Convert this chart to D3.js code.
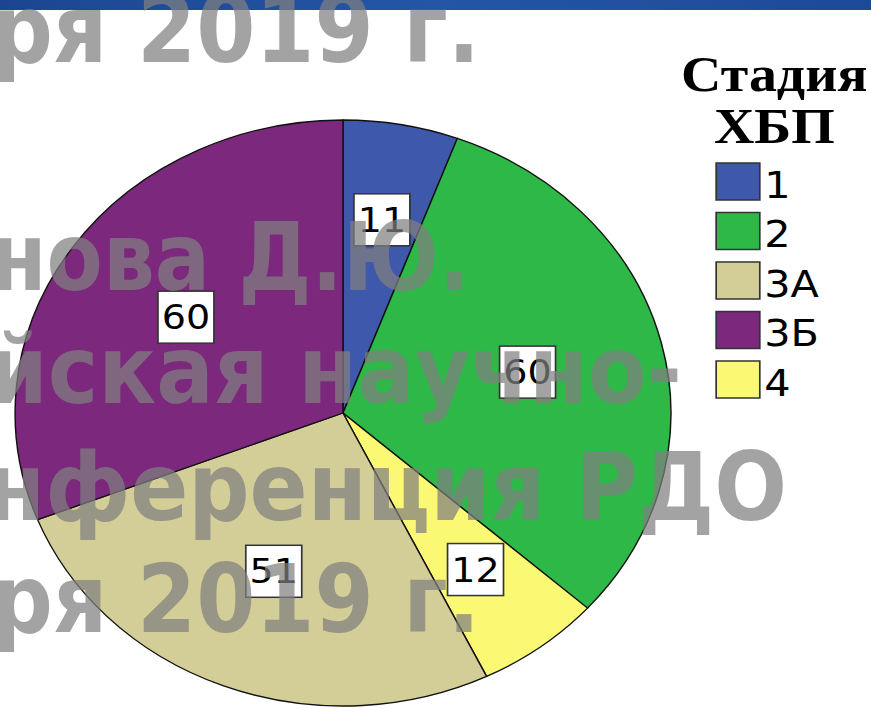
<!DOCTYPE html>
<html>
<head>
<meta charset="utf-8">
<script src="https://cdn.jsdelivr.net/npm/d3@7"></script>
<style>
  html, body { margin: 0; padding: 0; background: #fff; }
  svg { display: block; }
</style>
</head>
<body>
<svg id="chart"></svg>
<script>
// data, in the order the slices run clockwise from 12 o'clock
var sliceStages = ["1", "2", "4", "3А", "3Б"];
var sliceCounts = [11, 60, 12, 51, 60];

// legend order
var legendStages = ["1", "2", "3А", "3Б", "4"];
var stageColors = ["#3e58ac", "#2eb848", "#d3ce97", "#7c287d", "#fbf873"];

var legendTitle = ["Стадия", "ХБП"];

// slide watermark that lies over the picture
var watermarkLines = ["ря 2019 г.", "нова Д.Ю.", "йская научно-", "нференция РДО", "ря 2019 г."];

var width = 871, height = 709;
var stretch = 1.119;   // the chart image is stretched sideways on the slide

var svg = d3.select("#chart").attr("width", width).attr("height", height);

var color = d3.scaleOrdinal().domain(legendStages).range(stageColors);

// top bar of the slide
var grad = svg.append("defs").append("linearGradient").attr("id", "bar");
grad.append("stop").attr("offset", "0%").attr("stop-color", "#1c4590");
grad.append("stop").attr("offset", "50%").attr("stop-color", "#2456a6");
grad.append("stop").attr("offset", "100%").attr("stop-color", "#1d4a98");
svg.append("rect").attr("x", 0).attr("y", 0).attr("width", width).attr("height", 10)
    .attr("fill", "url(#bar)");

var chart = svg.append("g").attr("transform", "scale(" + stretch + ",1)");

var cx = 306.5, cy = 413, radius = 293;

var pie = d3.pie().sort(null).value(function(d){ return d.count; });
var rows = sliceStages.map(function(s, i){ return {stage: s, count: sliceCounts[i]}; });
var arcs = pie(rows);

var arc = d3.arc().innerRadius(0).outerRadius(radius);

var g = chart.append("g").attr("transform", "translate(" + cx + "," + cy + ")");

g.selectAll("path.slice").data(arcs)
  .enter().append("path")
    .attr("class", "slice")
    .attr("d", arc)
    .attr("fill", function(d){ return color(d.data.stage); })
    .attr("stroke", "#111")
    .attr("stroke-width", 1.3)
    .attr("stroke-linejoin", "round");

// value labels: small slices get pushed further out
function labelPos(d){
  var k = (d.endAngle - d.startAngle) < 0.5 ? 0.67 : 0.58;
  var a = d3.arc().innerRadius(radius * k).outerRadius(radius * k);
  return a.centroid(d);
}

var labels = g.selectAll("g.lab").data(arcs)
  .enter().append("g")
    .attr("class", "lab")
    .attr("transform", function(d){ var p = labelPos(d); return "translate(" + p[0] + "," + p[1] + ")"; });

labels.append("rect")
    .attr("x", -25).attr("y", -26).attr("width", 50).attr("height", 52)
    .attr("fill", "#fff").attr("stroke", "#333").attr("stroke-width", 1.5);

labels.append("text")
    .attr("text-anchor", "middle")
    .attr("y", 12)
    .style("font-family", "'DejaVu Sans', Verdana, sans-serif")
    .style("font-size", "34px")
    .attr("fill", "#000")
    .text(function(d){ return d.data.count; });

// legend
var legend = chart.append("g");

legend.selectAll("text.title").data(legendTitle)
  .enter().append("text")
    .attr("class", "title")
    .attr("x", 692)
    .attr("y", function(d, i){ return 91 + i * 52; })
    .attr("text-anchor", "middle")
    .style("font-family", "'Liberation Serif', 'Times New Roman', serif")
    .style("font-weight", "bold")
    .style("font-size", "50px")
    .attr("fill", "#000")
    .text(function(d){ return d; });

var items = legend.selectAll("g.item").data(legendStages)
  .enter().append("g")
    .attr("class", "item")
    .attr("transform", function(d, i){ return "translate(640," + (163 + i * 49.5) + ")"; });

items.append("rect")
    .attr("width", 39).attr("height", 37)
    .attr("fill", function(d){ return color(d); })
    .attr("stroke", "#333").attr("stroke-width", 1.5);

items.append("text")
    .attr("x", 43).attr("y", 35)
    .style("font-family", "'DejaVu Sans', Verdana, sans-serif")
    .style("font-size", "37px")
    .attr("fill", "#000")
    .text(function(d){ return d; });

// watermark on top
var wmBase = [62, 290, 403, 520, 632];
var wmLeft = [-8, -10, -12, -14, -8];
var wmRight = [480, 470, 682, 787, 480];

svg.append("g").selectAll("text").data(watermarkLines)
  .enter().append("text")
    .attr("x", function(d, i){ return wmLeft[i]; })
    .attr("y", function(d, i){ return wmBase[i]; })
    .attr("textLength", function(d, i){ return wmRight[i] - wmLeft[i]; })
    .attr("lengthAdjust", "spacingAndGlyphs")
    .style("font-family", "'DejaVu Sans Condensed', 'DejaVu Sans', sans-serif")
    .style("font-weight", "bold")
    .style("font-size", "94px")
    .attr("fill", "#7f7f7f")
    .attr("fill-opacity", 0.72)
    .text(function(d){ return d; });
</script>
</body>
</html>
